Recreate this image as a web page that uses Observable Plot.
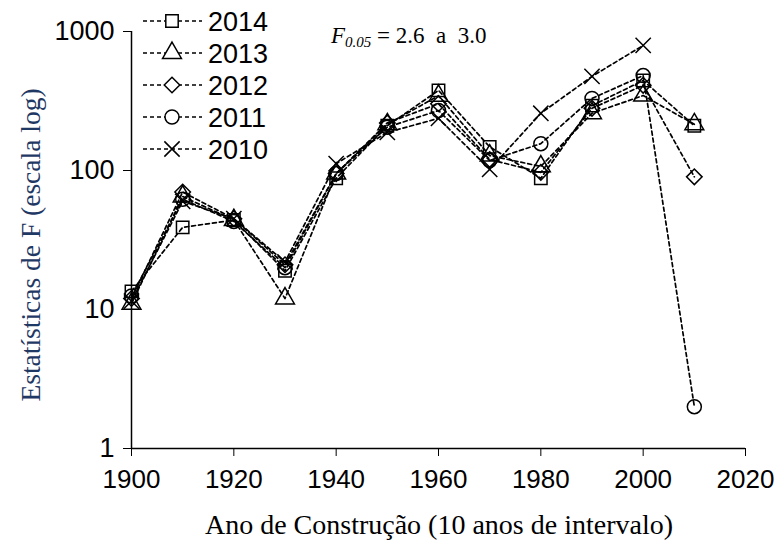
<!DOCTYPE html>
<html><head><meta charset="utf-8">
<script src="https://cdn.jsdelivr.net/npm/d3@7"></script>
<script src="https://cdn.jsdelivr.net/npm/@observablehq/plot@0.6"></script>
<style>body{margin:0;background:#fff}</style>
</head><body><div id="chart"></div>
<script>
const years = [1900,1910,1920,1930,1940,1950,1960,1970,1980,1990,2000,2010];
const seriesNames = ["2014","2013","2012","2011","2010"];
const symbolNames = ["square","triangle","diamond2","circle","times"];
const s2014 = [13.5, 39, 44, 19, 88, 210, 377, 148, 88, 293, 444, 210];
const s2013 = [11, 65, 44, 12, 95, 215, 345, 128, 107, 258, 346, 215];
const s2012 = [12, 70, 45, 21, 95, 220, 302, 120, 97, 280, 410, 90];
const s2011 = [12.5, 62, 43, 20, 95, 205, 270, 118, 156, 330, 482, 2];
const s2010 = [11.5, 60, 45, 22, 112, 188, 237, 102, 258, 475, 794, null];
const xTicks = [1900,1920,1940,1960,1980,2000,2020];
const yTicks = [1,10,100,1000];
const xTitle = "Ano de Construção (10 anos de intervalo)";
const yTitle = "Estatísticas de F (escala log)";

const allSeries = [s2014, s2013, s2012, s2011, s2010];
const data = [];
seriesNames.forEach((s, i) => allSeries[i].forEach((v, j) => {
  if (v != null) data.push({series: s, year: years[j], value: v});
}));

const plot = Plot.plot({
  width: 776, height: 550,
  marginLeft: 131, marginRight: 31, marginTop: 31, marginBottom: 102,
  style: {fontFamily: "'Liberation Sans', Arial, sans-serif", background: "#fff", color: "#000"},
  x: {domain: [1900, 2020]},
  y: {type: "log", domain: [1, 1000]},
  symbol: {domain: seriesNames, range: symbolNames},
  marks: [
    Plot.axisX({ticks: xTicks, tickFormat: d => String(d), tickSize: 8, tickPadding: 13, fontSize: 26, label: null}),
    Plot.axisY({ticks: yTicks, tickFormat: d => String(d), tickSize: 8, tickPadding: 9, fontSize: 27, label: null}),
    Plot.ruleX([1900], {stroke: "#000", strokeWidth: 1.5}),
    Plot.ruleY([1], {stroke: "#000", strokeWidth: 1.5}),
    Plot.line(data, {x: "year", y: "value", z: "series", stroke: "#000", strokeWidth: 1.7, strokeDasharray: "4,3"}),
    Plot.dot(data, {x: "year", y: "value", symbol: "series", stroke: "#000", fill: "none", r: 7, strokeWidth: 1.5})
  ]
});
document.getElementById("chart").appendChild(plot);

const svg = d3.select(plot);
const d3sym = {square: d3.symbolSquare, triangle: d3.symbolTriangle, diamond2: d3.symbolDiamond2, circle: d3.symbolCircle, times: d3.symbolTimes};
const lg = svg.append("g").attr("text-anchor", "start");
seriesNames.forEach((s, i) => {
  const cy = 21 + i * 32;
  lg.append("line").attr("x1", 143).attr("x2", 202).attr("y1", cy).attr("y2", cy)
    .attr("stroke", "#000").attr("stroke-width", 1.6).attr("stroke-dasharray", "4,3");
  lg.append("path").attr("transform", `translate(172,${cy})`)
    .attr("d", d3.symbol(d3sym[symbolNames[i]], 49 * Math.PI)())
    .attr("fill", "#fff").attr("stroke", "#000").attr("stroke-width", 1.5);
  lg.append("text").attr("x", 208).attr("y", cy).attr("dy", "0.36em")
    .attr("text-anchor", "start")
    .attr("font-family", "'Liberation Sans', Arial, sans-serif").attr("font-size", 27)
    .attr("fill", "#000").text(s);
});

const ann = svg.append("text").attr("x", 331).attr("y", 43).attr("text-anchor", "start")
  .attr("font-family", "'Liberation Serif', 'Times New Roman', serif").attr("font-size", 23).attr("fill", "#000");
ann.append("tspan").attr("font-style", "italic").text("F");
ann.append("tspan").attr("font-style", "italic").attr("font-size", 15).attr("dy", 4).text("0.05");
ann.append("tspan").attr("dy", -4).text(" = 2.6  a  3.0");

svg.append("text").attr("transform", "translate(30,245) rotate(-90)")
  .attr("text-anchor", "middle").attr("dy", "0.35em")
  .attr("font-family", "'Liberation Serif', 'Times New Roman', serif").attr("font-size", 27.5)
  .attr("fill", "#1f3864").text(yTitle);
svg.append("text").attr("x", 439).attr("y", 524)
  .attr("text-anchor", "middle").attr("dy", "0.35em")
  .attr("font-family", "'Liberation Serif', 'Times New Roman', serif").attr("font-size", 28)
  .attr("fill", "#000").text(xTitle);
</script>
</body></html>
